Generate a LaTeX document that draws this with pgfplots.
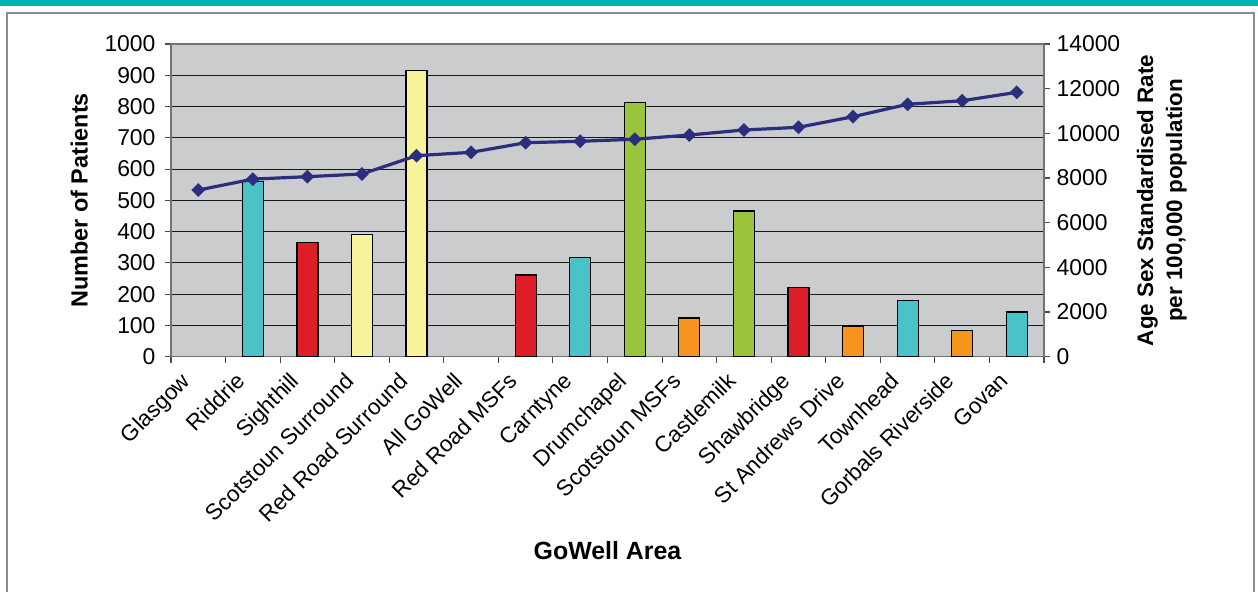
\documentclass[border=0pt]{standalone}
\usepackage{pgfplots}
\pgfplotsset{compat=1.18}
\usepackage{fontspec}
\setmainfont{Liberation Sans}
\pgfplotsset{/pgf/number format/1000 sep={}}

\definecolor{barteal}{RGB}{74,195,200}
\definecolor{barred}{RGB}{221,30,38}
\definecolor{baryellow}{RGB}{247,243,154}
\definecolor{bargreen}{RGB}{153,196,59}
\definecolor{barorange}{RGB}{247,148,30}
\definecolor{plotbg}{RGB}{203,204,206}
\definecolor{navy}{RGB}{43,45,125}
\definecolor{topstrip}{RGB}{0,178,169}

\begin{document}
\begin{tikzpicture}
    \useasboundingbox (0,0) rectangle (1258bp,592bp);
    % page decoration: teal strip and grey frame
    \fill[topstrip] (0,586bp) rectangle (1258bp,592bp);
    \draw[black!45, line width=1.2bp] (7bp,-10bp) -- (7bp,579bp) -- (1254bp,579bp) -- (1254bp,-10bp);

    \begin{axis}[
        at={(171bp,235.3bp)}, anchor=south west,
        scale only axis, width=873bp, height=312.7bp,
        xmin=-0.5, xmax=15.5, ymin=0, ymax=1000,
        axis background/.style={fill=plotbg},
        axis line style={black!55, line width=1.2bp},
        ytick={0,100,...,1000},
        xtick={-0.5,0.5,...,15.5}, xticklabels={},
        extra x ticks={0,1,...,15},
        extra x tick labels={Glasgow,Riddrie,Sighthill,Scotstoun Surround,Red Road Surround,All GoWell,Red Road MSFs,Carntyne,Drumchapel,Scotstoun MSFs,Castlemilk,Shawbridge,St Andrews Drive,Townhead,Gorbals Riverside,Govan},
        extra x tick style={major tick length=0pt, grid=none},
        xticklabel style={rotate=45, anchor=north east, inner sep=1bp, yshift=4bp, xshift=-22bp, font=\fontsize{22.5}{25}\selectfont},
        yticklabel style={font=\fontsize{23}{25}\selectfont, xshift=-6bp},
        tick pos=left, tick align=outside,
        major tick length=6bp,
        tick style={black!70, line width=1.1bp},
        ymajorgrids, grid style={black!90, line width=1bp},
        /pgf/number format/assume math mode=true,
        xlabel={GoWell Area},
        ylabel={Number of Patients},
        xlabel style={font=\fontsize{25}{28}\selectfont\bfseries, at={(axis description cs:0.5,-0.621)}, anchor=center},
        ylabel style={font=\fontsize{23.5}{26}\selectfont\bfseries, at={(axis description cs:-0.105,0.5)}, anchor=center},
        ybar, bar width=21bp, bar shift=0pt,
        every axis plot/.append style={draw=black, line width=1.2bp},
    ]
    \addplot[fill=barteal] coordinates {(1,560) (7,316) (13,180) (15,143)};
    \addplot[fill=barred] coordinates {(2,366) (6,261) (11,222)};
    \addplot[fill=baryellow] coordinates {(3,390) (4,915)};
    \addplot[fill=bargreen] coordinates {(8,812) (10,466)};
    \addplot[fill=barorange] coordinates {(9,124) (12,98) (14,84)};
    \end{axis}

    \begin{axis}[
        at={(171bp,235.3bp)}, anchor=south west,
        scale only axis, width=873bp, height=312.7bp,
        xmin=-0.5, xmax=15.5, ymin=0, ymax=14000,
        axis x line=none, axis y line*=right,
        axis line style={black!55, line width=1.2bp},
        ytick={0,2000,...,14000},
        tick align=outside, major tick length=6bp,
        tick style={black!70, line width=1.1bp},
        scaled y ticks=false,
        yticklabel style={/pgf/number format/fixed, font=\fontsize{23}{25}\selectfont, xshift=3bp},
        /pgf/number format/assume math mode=true,
        ylabel={Age Sex Standardised Rate\\per 100,000 population},
        ylabel style={font=\fontsize{22.5}{29}\selectfont\bfseries, align=center, at={(axis description cs:1.135,0.5)}, anchor=center},
    ]
    \addplot[navy, line width=3.2bp, mark=square*, mark size=4.6bp, mark options={rotate=45, fill=navy, draw=navy, line width=0.5bp}]
        coordinates {
        (0,7460) (1,7950) (2,8060) (3,8180) (4,9000) (5,9150) (6,9580) (7,9645)
        (8,9735) (9,9925) (10,10150) (11,10270) (12,10745) (13,11300) (14,11460) (15,11835)
        };
    \end{axis}
\end{tikzpicture}
\end{document}
